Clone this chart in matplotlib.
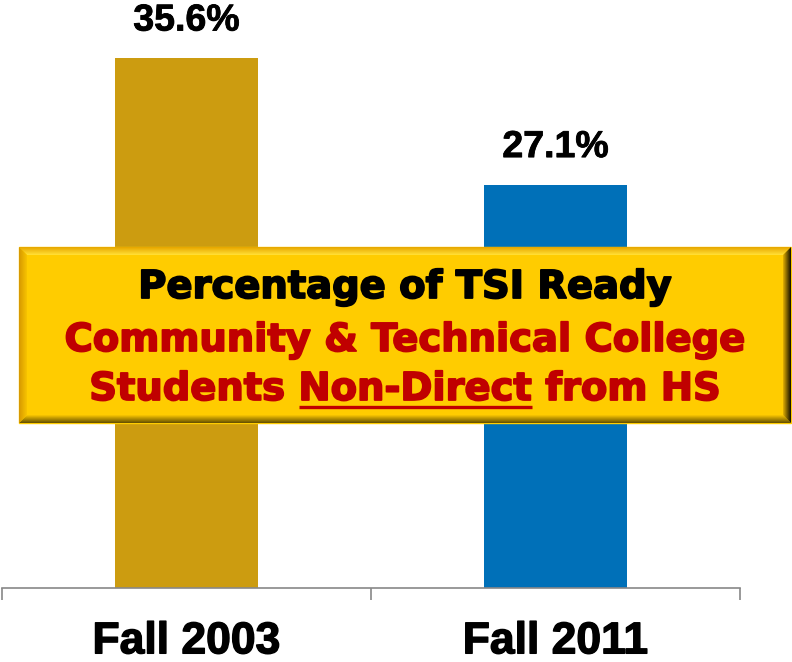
import numpy as np
import matplotlib.pyplot as plt
import matplotlib.patheffects as pe
from matplotlib.colors import to_rgb
from matplotlib.patches import Polygon, Rectangle

# datos
categories = ["Fall 2003", "Fall 2011"]
values = [35.6, 27.1]
bar_colors = ["#CC9C10", "#0070B8"]
box_lines = ["Percentage of TSI Ready",
             "Community & Technical College",
             "Students Non-Direct from HS"]
underlined = "Non-Direct"

W, H = 792, 662
fig = plt.figure(figsize=(W / 100, H / 100), dpi=100)

# grafico de barras
ax = fig.add_axes([2 / W, 74 / H, 738 / W, 588 / H])
x = np.arange(len(categories))
bars = ax.bar(x, values, width=0.388, color=bar_colors, zorder=2)
ax.set_xlim(-0.5, 1.5)
ax.set_ylim(0, 39.5)
for s in ["top", "right", "left"]:
    ax.spines[s].set_visible(False)
ax.spines["bottom"].set_color("#888888")
ax.spines["bottom"].set_linewidth(1.2)
ax.set_yticks([])
ax.set_xticks([-0.5, 0.5, 1.5])
ax.set_xticklabels([])
ax.tick_params(axis="x", which="major", length=8.6, width=1.2, color="#888888")
ax.set_xticks(x, minor=True)
ax.set_xticklabels(categories, minor=True, fontsize=32, fontweight="bold",
                   family="Liberation Sans")
ax.tick_params(axis="x", which="minor", length=0, pad=24)
for lab in ax.get_xticklabels(minor=True):
    lab.set_path_effects([pe.Stroke(linewidth=1.0, foreground="black"), pe.Normal()])

for b, v in zip(bars, values):
    ax.annotate(f"{v:.1f}%", (b.get_x() + b.get_width() / 2, v),
                xytext=(0, 27), textcoords="offset points",
                ha="center", va="center", fontsize=27, fontweight="bold",
                family="Liberation Sans",
                path_effects=[pe.Stroke(linewidth=0.6, foreground="black"), pe.Normal()])

# capa superior en pixeles para el recuadro
ov = fig.add_axes([0, 0, 1, 1], zorder=5)
ov.set_xlim(0, W)
ov.set_ylim(H, 0)
ov.axis("off")

x0, y0, x1, y1 = 19, 247, 791, 423
bev = 8


def mix(c1, c2, t):
    a, b = np.array(to_rgb(c1)), np.array(to_rgb(c2))
    return tuple(a + (b - a) * t)


ov.add_patch(Rectangle((x0, y0), x1 - x0, y1 - y0, color="#FFCC00", zorder=1))
for i in range(bev):
    d, d2 = i, i + 1
    t = i / (bev - 1)
    top = [(x0 + d, y0 + d), (x1 - d, y0 + d), (x1 - d2, y0 + d2), (x0 + d2, y0 + d2)]
    bot = [(x0 + d, y1 - d), (x1 - d, y1 - d), (x1 - d2, y1 - d2), (x0 + d2, y1 - d2)]
    lft = [(x0 + d, y0 + d), (x0 + d2, y0 + d2), (x0 + d2, y1 - d2), (x0 + d, y1 - d)]
    rgt = [(x1 - d, y0 + d), (x1 - d2, y0 + d2), (x1 - d2, y1 - d2), (x1 - d, y1 - d)]
    ov.add_patch(Polygon(top, closed=True, lw=0, color=mix("#E8A800", "#FFDD33", t), zorder=1.1))
    ov.add_patch(Polygon(bot, closed=True, lw=0, color=mix("#6B5500", "#F2C000", t), zorder=1.1))
    ov.add_patch(Polygon(lft, closed=True, lw=0, color=mix("#D89A00", "#F5C000", t), zorder=1.2))
    ov.add_patch(Polygon(rgt, closed=True, lw=0, color=mix("#1E1800", "#D8A800", t), zorder=1.2))

font = dict(family="DejaVu Sans", fontweight="bold", fontsize=27.7, ha="center", va="baseline")
cx = (x0 + x1) / 2


def thick(c):
    return [pe.Stroke(linewidth=1.3, foreground=c), pe.Normal()]


ov.text(cx, 298, box_lines[0], color="black", path_effects=thick("black"), **font)
ov.text(cx, 351, box_lines[1], color="#C00000", path_effects=thick("#C00000"), **font)
t3 = ov.text(cx, 400, box_lines[2], color="#C00000", path_effects=thick("#C00000"), **font)

# subrayado de "Non-Direct"
fig.canvas.draw()
rend = fig.canvas.get_renderer()
bb = t3.get_window_extent(rend)
pre = box_lines[2][:box_lines[2].index(underlined) + len(underlined)]
tmp1 = ov.text(0, 0, pre, **font)
tmp2 = ov.text(0, 0, underlined, **font)
w_pre = tmp1.get_window_extent(rend).width
w_und = tmp2.get_window_extent(rend).width
tmp1.remove()
tmp2.remove()
ux1 = bb.x0 + w_pre
ux0 = ux1 - w_und
ov.plot([ux0, ux1], [407, 407], color="#C00000", lw=2.4, solid_capstyle="butt", zorder=3)

fig.savefig("out.png", dpi=100)
